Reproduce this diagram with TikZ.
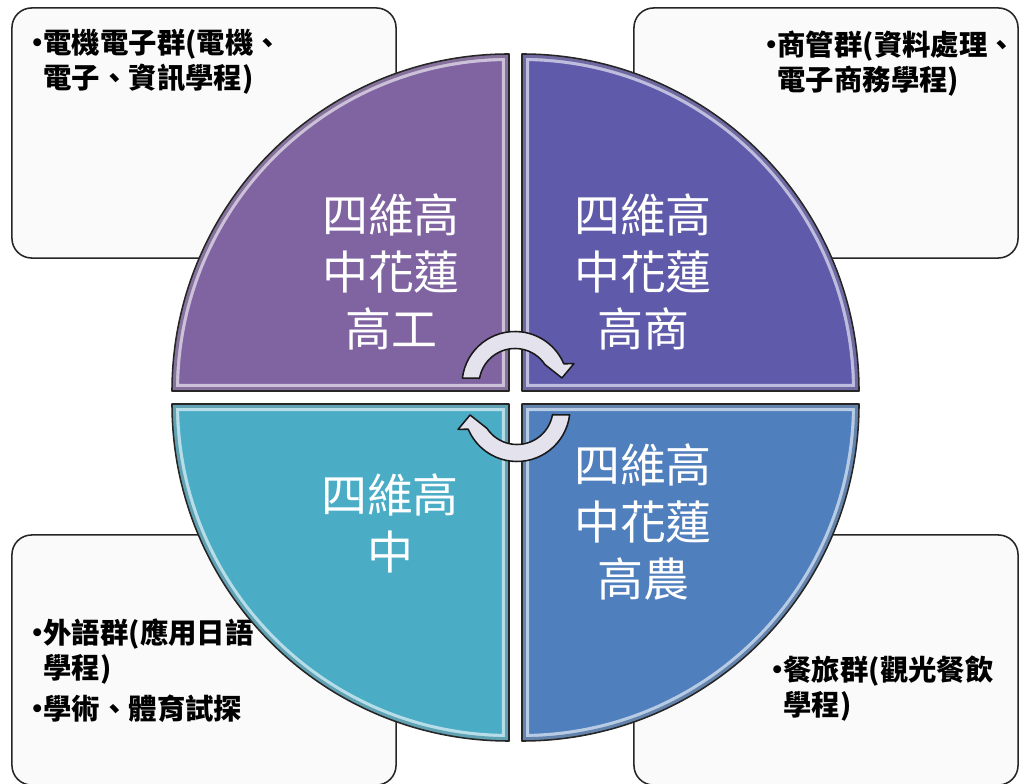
\documentclass[tikz,border=0pt]{standalone}
\usepackage{fontspec}
\newfontfamily\cjk{Noto Sans CJK TC}
\usetikzlibrary{positioning}
\definecolor{qpurple}{HTML}{8064A2}
\definecolor{qviolet}{HTML}{5F5AAA}
\definecolor{qaqua}{HTML}{4BACC6}
\definecolor{qblue}{HTML}{4F7FBD}
\definecolor{cycfill}{HTML}{E4E2EC}
\newcommand{\bul}{\makebox[0.3cm][c]{•}}
\tikzset{
  tbox/.style  = {draw=black!85, line width=1.1pt, rounded corners=14pt, fill=black!2,
  minimum width=9.6cm, minimum height=6.25cm, inner sep=0pt},
  btext/.style = {inner sep=0pt, align=left, font=\cjk\bfseries\fontsize{20.2}{25}\selectfont},
  qtext/.style = {inner sep=0pt, align=center, text=white, font=\cjk\fontsize{32.7}{40.5}\selectfont},
  qedge/.style = {draw=black!85, line width=1.1pt, line join=round},
  cyc/.style   = {fill=cycfill, draw=black!90, line width=1.1pt, line join=round}
}

\begin{document}
\begin{tikzpicture}[x=0.025cm, y=0.025cm]
\useasboundingbox (0,0) rectangle (1019,783);

% the four boxes behind the circle
\begin{scope}[every node/.style={tbox}]
  \node (b1) at (204,650) {};
  \node (b2) at (826,650) {};
  \node (b3) at (204,123) {};
  \node (b4) at (826,123) {};
\end{scope}

% texts of the boxes
\node[btext, below right=0.525cm and 0.5cm of b1.north west] (t1)
  {\begin{tabular}{@{}l@{}l@{}}\bul&電機電子群(電機、\\ &電子、資訊學程)\end{tabular}};
\node[btext, below right=0.575cm and 3.3cm of b2.north west] (t2)
  {\begin{tabular}{@{}l@{}l@{}}\bul&商管群(資料處理、\\ &電子商務學程)\end{tabular}};
\node[btext, below right=2.1cm and 0.5cm of b3.north west] (t3)
  {\begin{tabular}{@{}l@{}l@{}}\bul&外語群(應用日語\\ &學程)\\[4pt] \bul&學術、體育試探\end{tabular}};
\node[btext, below right=3.025cm and 3.45cm of b4.north west] (t4)
  {\begin{tabular}{@{}l@{}l@{}}\bul&餐旅群(觀光餐飲\\ &學程)\end{tabular}};

% the four quarters of the circle, with a light bevel
\foreach \cx/\cy/\sa/\ea/\col in {509/392/180/90/qpurple, 522/392/90/0/qviolet,
                                  509/379/180/270/qaqua, 522/379/0/-90/qblue}{
  \fill[\col] (\cx,\cy) -- ++(\sa:337) arc[start angle=\sa, end angle=\ea, radius=337] -- cycle;
  \begin{scope}
    \clip (\cx,\cy) -- ++(\sa:337) arc[start angle=\sa, end angle=\ea, radius=337] -- cycle;
    \draw[white, opacity=.6, line width=10pt] (\cx,\cy) -- ++(\sa:337)
      arc[start angle=\sa, end angle=\ea, radius=337] -- cycle;
    \draw[\col!80!black, opacity=.7, line width=5.5pt] (\cx,\cy) -- ++(\sa:337)
      arc[start angle=\sa, end angle=\ea, radius=337] -- cycle;
  \end{scope}
  \draw[qedge] (\cx,\cy) -- ++(\sa:337) arc[start angle=\sa, end angle=\ea, radius=337] -- cycle;
}

% labels of the quarters
\begin{scope}[every node/.style={qtext}]
  \node (q1) at (391,511) {四維高\\中花蓮\\高工};
  \node (q2) at (643,511) {四維高\\中花蓮\\高商};
  \node (q3) at (390,260) {四維高\\中};
  \node (q4) at (643,261) {四維高\\中花蓮\\高農};
\end{scope}

% the two turning arrows in the middle
\foreach \sx/\sy/\rot in {515/398.5/0, 517/374.5/180}{
  \begin{scope}[shift={(\sx,\sy)}, rotate=\rot]
    \filldraw[cyc] (173:53) arc[start angle=173, end angle=23, radius=53]
      -- (19.5:62.5) -- (7.9:47.4) -- (33.6:36)
      arc[start angle=33.6, end angle=170, radius=36] -- cycle;
  \end{scope}
}
\end{tikzpicture}
\end{document}
